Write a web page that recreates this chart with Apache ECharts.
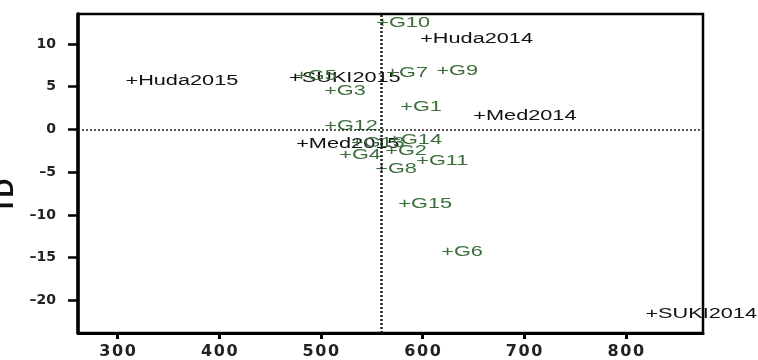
<!DOCTYPE html>
<html>
<head>
<meta charset="utf-8">
<script src="https://cdn.jsdelivr.net/npm/echarts@6/dist/echarts.min.js"></script>
<style>html,body{margin:0;padding:0;background:#fff}#c{width:758px;height:360px}</style>
</head>
<body>
<div id="c"></div>
<script>
// Data
const names = ['Huda2015','SUKI2015','G5','G3','G7','G9','G1','G12','Med2015','G13','G14','G2','G4','G8','G11','Med2014','Huda2014','G10','G15','G6','SUKI2014'];
const xs    = [314, 475, 481, 509.5, 570.7, 620, 584.4, 509.6, 482, 536, 572.6, 569.7, 524.4, 559.8, 600.2, 656.3, 604, 560.8, 582.5, 624.8, 825.6];
const ys    = [5.6, 5.95, 6.2, 4.5, 6.64, 6.87, 2.58, 0.38, -1.7, -1.58, -1.24, -2.5, -2.95, -4.6, -3.67, 1.54, 10.58, 12.43, -8.77, -14.33, -21.6];
const xTicks = [300, 400, 500, 600, 700, 800];
const yTicks = [-20, -15, -10, -5, 0, 5, 10];
const refX = 559;
const refY = 0;
const yName = 'TD';

const chart = echarts.init(document.getElementById('c'), null, {renderer: 'canvas'});
const data = names.map((n, i) => [xs[i], ys[i]]);

function spaced(v) {
  return String(v).replace('-', '\u2013').split('').join('\u200A');
}

chart.setOption({
  backgroundColor: '#fff',
  animation: false,
  grid: {left: 78, right: 55, top: 14, bottom: 24, show: true, borderColor: '#000', borderWidth: 2.5, backgroundColor: 'transparent'},
  xAxis: {
    type: 'value', min: 261, max: 876,
    axisLine: {show: true, onZero: false, lineStyle: {color: '#000', width: 3}},
    axisTick: {show: true, length: 6, lineStyle: {color: '#000', width: 3}, customValues: xTicks},
    axisLabel: {
      customValues: xTicks, margin: 11, color: '#222',
      fontSize: 16, fontWeight: 'bold', fontFamily: 'DejaVu Sans',
      formatter: spaced
    },
    splitLine: {show: false}
  },
  yAxis: {
    type: 'value', min: -23.8, max: 13.5,
    axisLine: {show: true, onZero: false, lineStyle: {color: '#000', width: 3.5}},
    axisTick: {show: true, length: 10, lineStyle: {color: '#000', width: 2.5}, customValues: yTicks},
    axisLabel: {
      customValues: yTicks, margin: 22, color: '#222',
      fontSize: 14, fontWeight: 'bold', fontFamily: 'DejaVu Sans',
      formatter: function (v) { return String(v).replace('-', '\u2013'); }
    },
    splitLine: {show: false}
  },
  graphic: [{
    type: 'text', x: 6, y: 196, rotation: Math.PI / 2,
    style: {text: yName, x: 0, y: 0, align: 'center', verticalAlign: 'middle', font: 'bold 26px "Liberation Sans"', fill: '#111'}
  }],
  series: [
    {
      type: 'line', data: [], silent: true,
      markLine: {
        symbol: 'none', silent: true, label: {show: false}, animation: false,
        data: [
          {xAxis: refX, lineStyle: {type: [2, 2], color: '#222', width: 2.5}},
          {yAxis: refY, lineStyle: {type: [2, 2], color: '#222', width: 1.5}}
        ]
      }
    },
    {
      type: 'custom', clip: false, data: data,
      renderItem: function (params, api) {
        const p = api.coord([api.value(0), api.value(1)]);
        const n = names[params.dataIndex];
        const isG = /^G\d+$/.test(n);
        return {
          type: 'text', x: p[0] - 6.4, y: p[1], scaleX: 1.55, scaleY: 1,
          style: {text: '+' + n, x: 0, y: 0, align: 'left', verticalAlign: 'middle',
                  font: '14px "Liberation Sans"', fill: isG ? '#3c6e3c' : '#111'}
        };
      }
    }
  ]
});
</script>
</body>
</html>
